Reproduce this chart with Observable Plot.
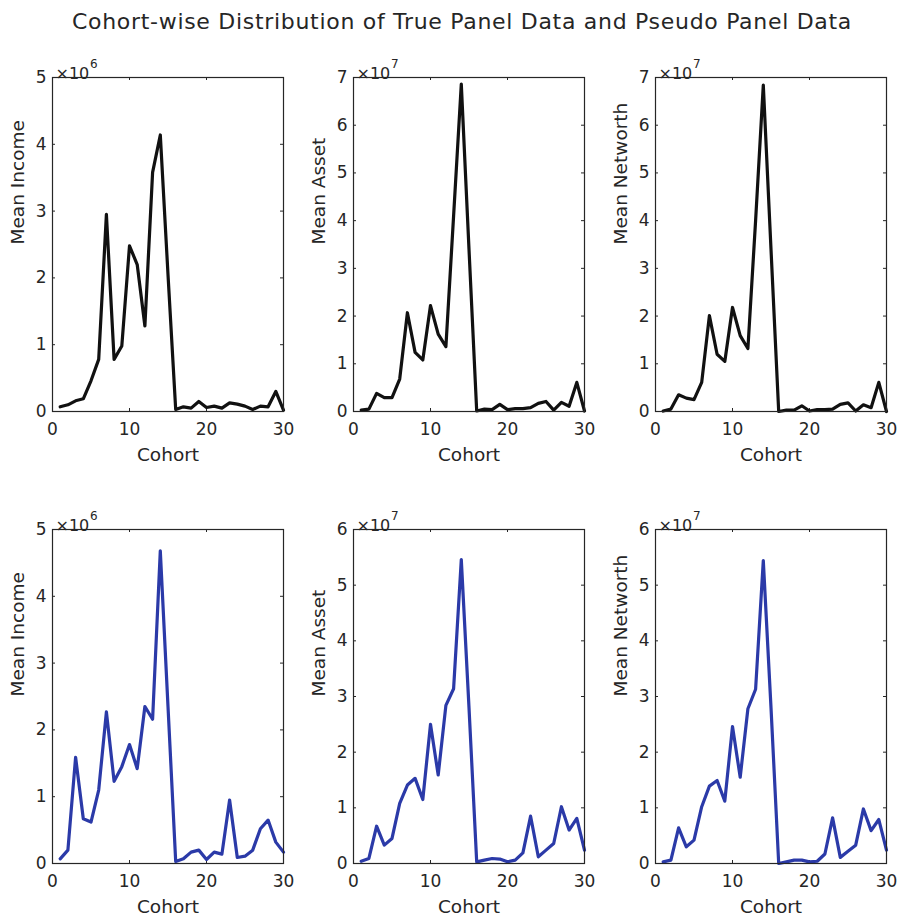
<!DOCTYPE html>
<html>
<head>
<meta charset="utf-8">
<script src="https://cdn.jsdelivr.net/npm/d3@7"></script>
<script src="https://cdn.jsdelivr.net/npm/@observablehq/plot@0.6"></script>
<style>
  body { margin: 0; background: #fff; }
  #fig { position: relative; width: 897px; height: 919px; overflow: hidden; background: #fff;
         font-family: "DejaVu Sans", sans-serif; color: #262626; }
  #title { position: absolute; top: 9px; left: 0; width: 924px; text-align: center; font-size: 22px;
           letter-spacing: 0.7px; white-space: nowrap; }
  .panel { position: absolute; }
</style>
</head>
<body>
<div id="fig">
  <div id="title">Cohort-wise Distribution of True Panel Data and Pseudo Panel Data</div>
</div>
<script>
// Cohort index (x axis)
const cohorts = [1, 2, 3, 4, 5, 6, 7, 8, 9, 10, 11, 12, 13, 14, 15,
                 16, 17, 18, 19, 20, 21, 22, 23, 24, 25, 26, 27, 28, 29, 30];
const xTicks = [0, 10, 20, 30];

// True panel data (income in units of 10^6, asset / networth in units of 10^7)
const trueIncome = [0.07, 0.10, 0.16, 0.19, 0.46, 0.78, 2.95, 0.78, 0.98, 2.48,
                    2.20, 1.28, 3.58, 4.14, 2.05, 0.03, 0.07, 0.05, 0.15, 0.06,
                    0.08, 0.05, 0.13, 0.11, 0.08, 0.03, 0.08, 0.07, 0.30, 0.02];
const trueAsset = [0.03, 0.05, 0.38, 0.29, 0.29, 0.68, 2.07, 1.24, 1.08, 2.22,
                   1.62, 1.36, 4.10, 6.86, 3.40, 0.01, 0.05, 0.04, 0.15, 0.04,
                   0.06, 0.06, 0.08, 0.17, 0.21, 0.03, 0.19, 0.11, 0.61, 0.01];
const trueNetworth = [0.01, 0.05, 0.35, 0.28, 0.25, 0.61, 2.01, 1.20, 1.05, 2.18,
                      1.59, 1.32, 4.00, 6.84, 3.40, 0.00, 0.03, 0.03, 0.12, 0.01,
                      0.04, 0.04, 0.05, 0.15, 0.18, 0.01, 0.14, 0.08, 0.61, 0.00];

// Pseudo panel data (same units)
const pseudoIncome = [0.07, 0.20, 1.59, 0.67, 0.62, 1.10, 2.27, 1.23, 1.45, 1.78,
                      1.42, 2.35, 2.16, 4.68, 2.35, 0.03, 0.07, 0.17, 0.20, 0.06,
                      0.17, 0.14, 0.95, 0.09, 0.11, 0.20, 0.52, 0.65, 0.32, 0.17];
const pseudoAsset = [0.04, 0.09, 0.67, 0.33, 0.45, 1.08, 1.41, 1.53, 1.15, 2.50,
                     1.59, 2.84, 3.14, 5.46, 2.80, 0.03, 0.06, 0.09, 0.08, 0.03,
                     0.06, 0.19, 0.85, 0.12, 0.24, 0.36, 1.02, 0.60, 0.81, 0.24];
const pseudoNetworth = [0.03, 0.06, 0.64, 0.30, 0.42, 1.02, 1.39, 1.49, 1.12, 2.46,
                        1.55, 2.78, 3.13, 5.44, 2.80, 0.00, 0.03, 0.06, 0.06, 0.03,
                        0.04, 0.17, 0.82, 0.11, 0.22, 0.33, 0.98, 0.59, 0.79, 0.24];

// Y tick values per panel
const yTicksIncome = [0, 1, 2, 3, 4, 5];
const yTicksTrueWealth = [0, 1, 2, 3, 4, 5, 6, 7];
const yTicksPseudoWealth = [0, 1, 2, 3, 4, 5, 6];

const ink = "#262626";
const trueColor = "#111111";
const pseudoColor = "#2b3aa8";
const font = '"DejaVu Sans", sans-serif';

// Frame geometry of one axes box
const W = 231, H = 334, ML = 60, MT = 40, MR = 9, MB = 56;

function panel({values, yTicks, exponent, label, color, left, top}) {
  const data = cohorts.map((c, i) => ({cohort: c, value: values[i]}));
  const chart = Plot.plot({
    width: ML + W + MR,
    height: MT + H + MB,
    marginLeft: ML, marginTop: MT, marginRight: MR, marginBottom: MB,
    x: {domain: [xTicks[0], xTicks[xTicks.length - 1]]},
    y: {domain: [yTicks[0], yTicks[yTicks.length - 1]]},
    style: {fontFamily: font, fontSize: "17px", color: ink, background: "transparent", overflow: "visible"},
    marks: [
      Plot.axisX(xTicks, {tickSize: 0, tickPadding: 11, tickFormat: d => String(d), label: null, fontSize: 17, fill: ink}),
      Plot.axisY(yTicks, {tickSize: 0, tickPadding: 6, tickFormat: d => String(d), label: null, fontSize: 17, fill: ink}),
      // inward ticks on all four sides
      Plot.tickX(xTicks, {x: d => d, insetTop: H - 3, stroke: ink}),
      Plot.tickX(xTicks, {x: d => d, insetBottom: H - 3, stroke: ink}),
      Plot.tickY(yTicks, {y: d => d, insetRight: W - 3, stroke: ink}),
      Plot.tickY(yTicks, {y: d => d, insetLeft: W - 3, stroke: ink}),
      Plot.line(data, {x: "cohort", y: "value", stroke: color, strokeWidth: 3.2, strokeLinejoin: "round"}),
      Plot.frame({stroke: ink, strokeWidth: 1.2}),
      Plot.text([label], {frameAnchor: "left", rotate: -90, dx: -34, fontSize: 18.5, fill: ink}),
      Plot.text(["Cohort"], {frameAnchor: "bottom", dy: 49, fontSize: 18.5, fill: ink}),
      Plot.text(["\u00d710"], {frameAnchor: "top-left", textAnchor: "start", dx: 3, dy: -10, fontSize: 16, fill: ink}),
      Plot.text([exponent], {frameAnchor: "top-left", textAnchor: "start", dx: 37.5, dy: -18, fontSize: 12, fill: ink})
    ]
  });
  chart.classList.add("panel");
  chart.style.left = (left - ML) + "px";
  chart.style.top = (top - MT) + "px";
  document.getElementById("fig").appendChild(chart);
}

const colsX = [52, 353, 655];
const rowsY = [77, 529];

panel({values: trueIncome, yTicks: yTicksIncome, exponent: "6", label: "Mean Income", color: trueColor, left: colsX[0], top: rowsY[0]});
panel({values: trueAsset, yTicks: yTicksTrueWealth, exponent: "7", label: "Mean Asset", color: trueColor, left: colsX[1], top: rowsY[0]});
panel({values: trueNetworth, yTicks: yTicksTrueWealth, exponent: "7", label: "Mean Networth", color: trueColor, left: colsX[2], top: rowsY[0]});
panel({values: pseudoIncome, yTicks: yTicksIncome, exponent: "6", label: "Mean Income", color: pseudoColor, left: colsX[0], top: rowsY[1]});
panel({values: pseudoAsset, yTicks: yTicksPseudoWealth, exponent: "7", label: "Mean Asset", color: pseudoColor, left: colsX[1], top: rowsY[1]});
panel({values: pseudoNetworth, yTicks: yTicksPseudoWealth, exponent: "7", label: "Mean Networth", color: pseudoColor, left: colsX[2], top: rowsY[1]});
</script>
</body>
</html>
